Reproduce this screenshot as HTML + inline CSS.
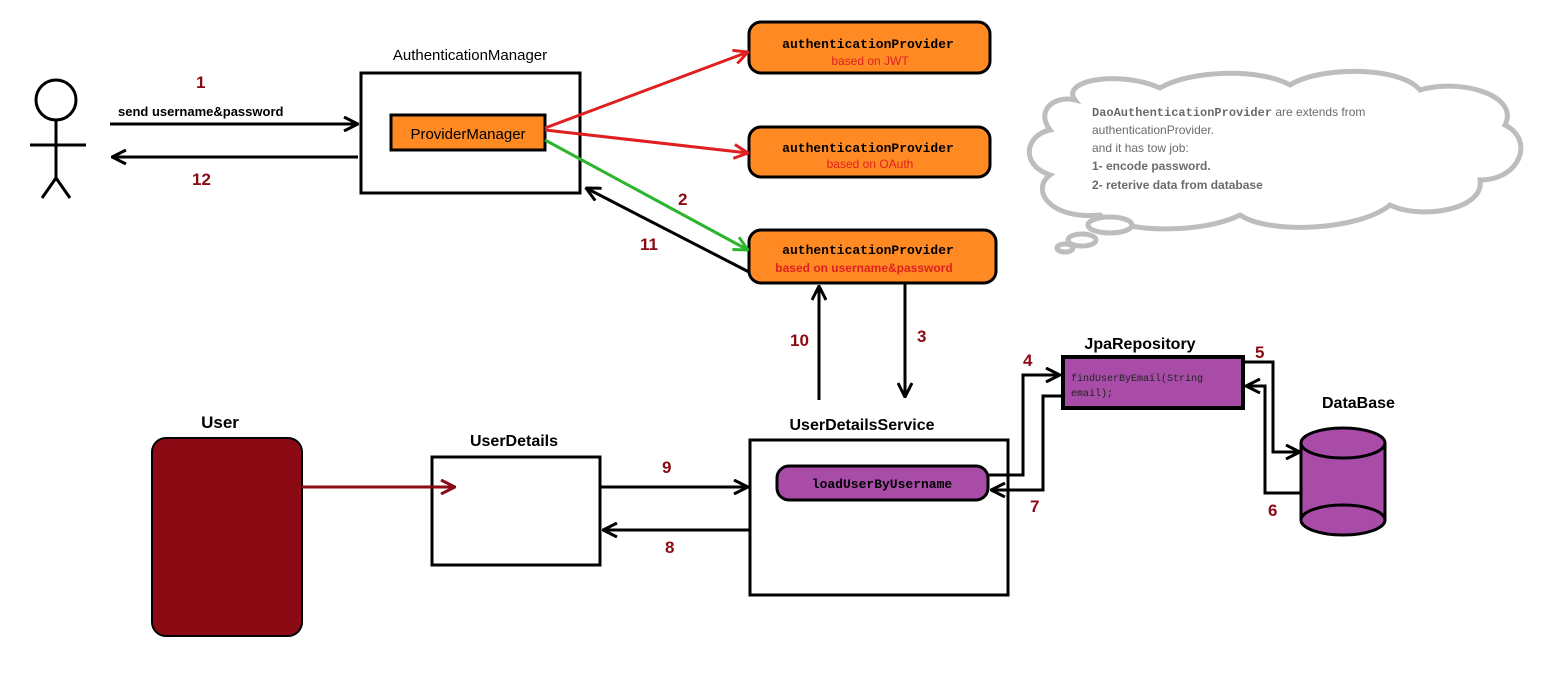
<!DOCTYPE html>
<html><head><meta charset="utf-8"><style>body{margin:0;background:#fff}svg{display:block}</style></head>
<body>
<svg width="1561" height="695" viewBox="0 0 1561 695" xmlns="http://www.w3.org/2000/svg" font-family="Liberation Sans, sans-serif">
<defs>
<marker id="a" viewBox="0 0 12 12" refX="11" refY="6" markerWidth="12" markerHeight="12" markerUnits="userSpaceOnUse" orient="auto"><path d="M1,1 L11,6 L1,11" fill="none" stroke="context-stroke" stroke-width="2.5"/></marker>
<marker id="ab" viewBox="0 0 16 16" refX="15" refY="8" markerWidth="16" markerHeight="16" markerUnits="userSpaceOnUse" orient="auto"><path d="M1,1 L15,8 L1,15" fill="none" stroke="#000" stroke-width="3"/></marker>
<marker id="ar" viewBox="0 0 16 16" refX="15" refY="8" markerWidth="16" markerHeight="16" markerUnits="userSpaceOnUse" orient="auto"><path d="M1,1 L15,8 L1,15" fill="none" stroke="#e02020" stroke-width="3"/></marker>
<marker id="ag" viewBox="0 0 16 16" refX="15" refY="8" markerWidth="16" markerHeight="16" markerUnits="userSpaceOnUse" orient="auto"><path d="M1,1 L15,8 L1,15" fill="none" stroke="#2db52d" stroke-width="3"/></marker>
<marker id="am" viewBox="0 0 16 16" refX="15" refY="8" markerWidth="16" markerHeight="16" markerUnits="userSpaceOnUse" orient="auto"><path d="M1,1 L15,8 L1,15" fill="none" stroke="#8b0a14" stroke-width="3"/></marker>
</defs>
<!-- stick figure -->
<g stroke="#000" stroke-width="3" fill="none">
<circle cx="56" cy="100" r="20"/>
<line x1="56" y1="120" x2="56" y2="178"/>
<line x1="30" y1="145" x2="86" y2="145"/>
<line x1="56" y1="178" x2="42" y2="198"/>
<line x1="56" y1="178" x2="70" y2="198"/>
</g>
<!-- cloud -->
<g stroke="#bdbdbd" stroke-width="5" fill="#fff">
<path d="M1075,100 C1060,80 1120,70 1160,88 C1190,70 1260,68 1290,85 C1320,66 1400,66 1420,90 C1460,78 1520,95 1505,125 C1535,140 1520,180 1480,180 C1485,210 1420,220 1390,205 C1360,230 1270,235 1240,215 C1200,235 1120,232 1100,215 C1050,220 1030,190 1050,175 C1020,165 1025,135 1050,130 C1035,110 1055,95 1075,100 Z"/>
<ellipse cx="1110" cy="225" rx="22" ry="8"/>
<ellipse cx="1082" cy="240" rx="14" ry="6"/>
<ellipse cx="1065" cy="248" rx="8" ry="4"/>
</g>
<g font-size="12" fill="#6b6b6b">
<text x="1092" y="116"><tspan font-family="Liberation Mono, monospace" font-weight="bold">DaoAuthenticationProvider</tspan> are extends from</text>
<text x="1092" y="134">authenticationProvider.</text>
<text x="1092" y="152">and it has tow job:</text>
<text x="1092" y="170" font-weight="bold">1- encode password.</text>
<text x="1092" y="189" font-weight="bold">2- reterive data from database</text>
</g>
<!-- Authentication manager -->
<text x="470" y="60" font-size="15" text-anchor="middle">AuthenticationManager</text>
<rect x="361" y="73" width="219" height="120" fill="#fff" stroke="#000" stroke-width="3"/>
<rect x="391" y="115" width="154" height="35" fill="#ff8a24" stroke="#000" stroke-width="3"/>
<text x="468" y="139" font-size="15" text-anchor="middle">ProviderManager</text>
<!-- arrows 1 / 12 -->
<line x1="110" y1="124" x2="358" y2="124" stroke="#000" stroke-width="3" marker-end="url(#ab)"/>
<line x1="358" y1="157" x2="112" y2="157" stroke="#000" stroke-width="3" marker-end="url(#ab)"/>
<text x="118" y="116" font-size="13" font-weight="bold">send username&amp;password</text>
<g fill="#8b0a14" font-size="17" font-weight="bold">
<text x="196" y="88">1</text><text x="192" y="185">12</text>
<text x="678" y="205">2</text><text x="640" y="250">11</text>
<text x="790" y="346">10</text><text x="917" y="342">3</text>
<text x="1023" y="366">4</text><text x="1030" y="512">7</text>
<text x="1255" y="358">5</text><text x="1268" y="516">6</text>
<text x="662" y="473">9</text><text x="665" y="553">8</text>
</g>
<!-- providers -->
<g stroke="#000" stroke-width="3" fill="#ff8a24">
<rect x="749" y="22" width="241" height="51" rx="12"/>
<rect x="749" y="127" width="241" height="50" rx="12"/>
<rect x="749" y="230" width="247" height="53" rx="12"/>
</g>
<g font-family="Liberation Mono, monospace" font-weight="bold" font-size="13" text-anchor="middle">
<text x="868" y="48">authenticationProvider</text>
<text x="868" y="152">authenticationProvider</text>
<text x="868" y="254">authenticationProvider</text>
</g>
<g fill="#e02020" font-size="12" text-anchor="middle">
<text x="870" y="65">based on JWT</text>
<text x="870" y="168">based on OAuth</text>
<text x="864" y="272" font-weight="bold">based on username&amp;password</text>
</g>
<line x1="545" y1="128" x2="748" y2="52" stroke="#e02020" stroke-width="3" marker-end="url(#ar)"/>
<line x1="545" y1="130" x2="748" y2="153" stroke="#e02020" stroke-width="3" marker-end="url(#ar)"/>
<line x1="545" y1="140" x2="748" y2="250" stroke="#2db52d" stroke-width="3" marker-end="url(#ag)"/>
<line x1="749" y1="272" x2="586" y2="188" stroke="#000" stroke-width="3" marker-end="url(#ab)"/>
<line x1="819" y1="400" x2="819" y2="286" stroke="#000" stroke-width="3" marker-end="url(#ab)"/>
<line x1="905" y1="284" x2="905" y2="397" stroke="#000" stroke-width="3" marker-end="url(#ab)"/>
<!-- UserDetailsService -->
<text x="862" y="430" font-size="16" font-weight="bold" text-anchor="middle">UserDetailsService</text>
<rect x="750" y="440" width="258" height="155" fill="#fff" stroke="#000" stroke-width="3"/>
<rect x="777" y="466" width="211" height="34" rx="12" fill="#a84ca8" stroke="#000" stroke-width="3"/>
<text x="882" y="488" font-family="Liberation Mono, monospace" font-weight="bold" font-size="13" text-anchor="middle">loadUserByUsername</text>
<!-- UserDetails -->
<text x="514" y="446" font-size="16" font-weight="bold" text-anchor="middle">UserDetails</text>
<rect x="432" y="457" width="168" height="108" fill="#fff" stroke="#000" stroke-width="3"/>
<line x1="600" y1="487" x2="748" y2="487" stroke="#000" stroke-width="3" marker-end="url(#ab)"/>
<line x1="750" y1="530" x2="603" y2="530" stroke="#000" stroke-width="3" marker-end="url(#ab)"/>
<!-- User -->
<text x="220" y="428" font-size="17" font-weight="bold" text-anchor="middle">User</text>
<rect x="152" y="438" width="150" height="198" rx="14" fill="#8b0a14" stroke="#000" stroke-width="2"/>
<line x1="302" y1="487" x2="455" y2="487" stroke="#8b0a14" stroke-width="3" marker-end="url(#am)"/>
<!-- JpaRepository -->
<text x="1140" y="349" font-size="16" font-weight="bold" text-anchor="middle">JpaRepository</text>
<rect x="1063" y="357" width="180" height="51" fill="#a84ca8" stroke="#000" stroke-width="4"/>
<text x="1071" y="381" font-family="Liberation Mono, monospace" font-size="10" fill="#222">findUserByEmail(String</text>
<text x="1071" y="396" font-family="Liberation Mono, monospace" font-size="10" fill="#222">email);</text>
<polyline points="988,475 1023,475 1023,375 1060,375" fill="none" stroke="#000" stroke-width="3" marker-end="url(#ab)"/>
<polyline points="1063,396 1043,396 1043,490 991,490" fill="none" stroke="#000" stroke-width="3" marker-end="url(#ab)"/>
<polyline points="1243,362 1273,362 1273,452 1300,452" fill="none" stroke="#000" stroke-width="3" marker-end="url(#ab)"/>
<polyline points="1300,493 1265,493 1265,386 1246,386" fill="none" stroke="#000" stroke-width="3" marker-end="url(#ab)"/>
<!-- DataBase -->
<text x="1322" y="408" font-size="16" font-weight="bold">DataBase</text>
<path d="M1301,443 L1301,520 A42,15 0 0 0 1385,520 L1385,443" fill="#a84ca8" stroke="#000" stroke-width="3"/>
<ellipse cx="1343" cy="443" rx="42" ry="15" fill="#a84ca8" stroke="#000" stroke-width="3"/>
<path d="M1301,520 A42,15 0 0 1 1385,520" fill="none" stroke="#000" stroke-width="3"/>
</svg>
</body></html>
